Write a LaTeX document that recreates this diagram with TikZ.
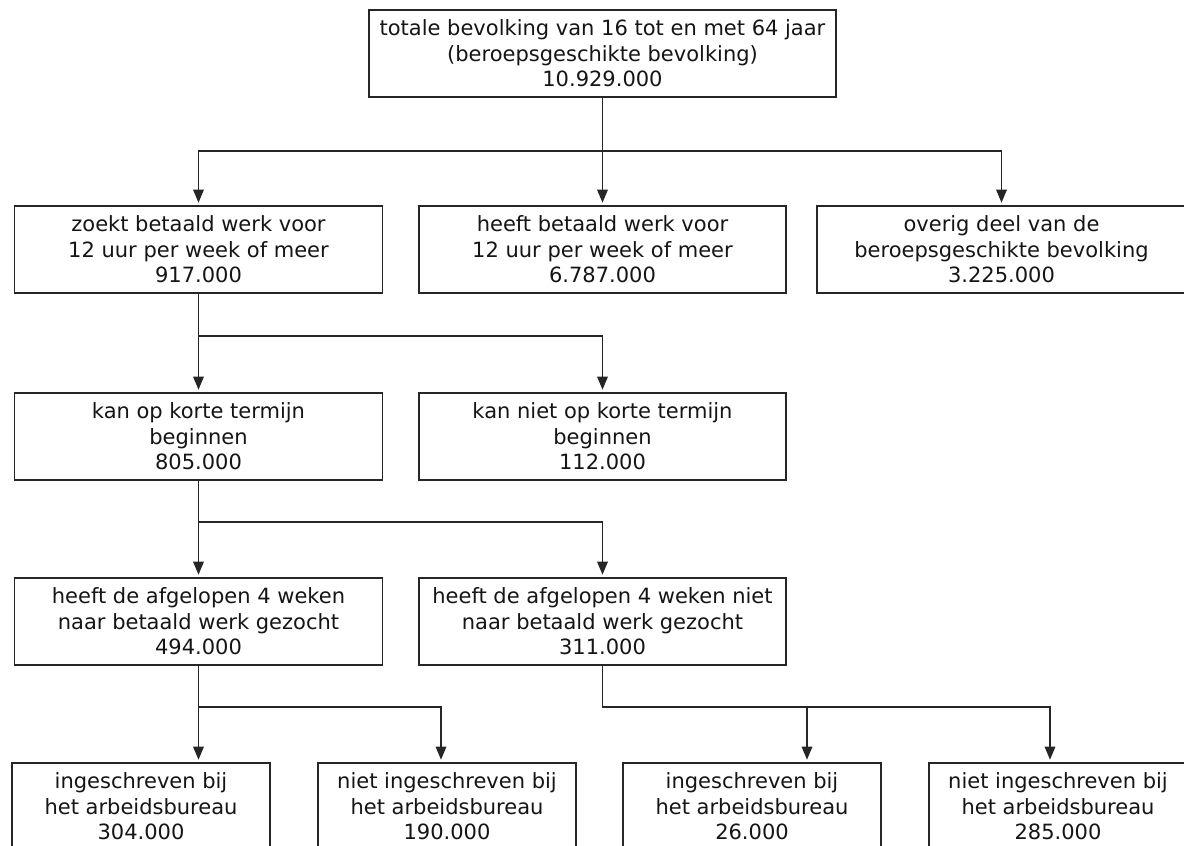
\documentclass[tikz,border=0pt]{standalone}
\usepackage{fontspec}
\setmainfont{DejaVu Sans}
\usetikzlibrary{arrows.meta}
\definecolor{ink}{HTML}{151515}
\definecolor{edge}{HTML}{262626}
\begin{document}
\begin{tikzpicture}[x=1pt,y=-1pt,
  box/.style={draw=edge, line width=1.6pt, rectangle, align=center, inner sep=0pt,
    minimum height=87pt, text=ink, font=\fontsize{21}{25.5}\selectfont},
  ln/.style={draw=edge, line width=1.6pt},
  arr/.style={ln, -{Triangle[length=13pt,width=10.5pt]}, shorten >=2.5pt}]
\useasboundingbox (0,0) rectangle (1184,846);
\fill[white] (0,0) rectangle (1184,846);
% top
\node[box, minimum width=467pt] (top) at (602.5,53.5) {totale bevolking van 16 tot en met 64 jaar\\(beroepsgeschikte bevolking)\\10.929.000};
% row 1
\node[box, minimum width=368pt] (A) at (198.5,249.5) {zoekt betaald werk voor\\12 uur per week of meer\\917.000};
\node[box, minimum width=367pt] (B) at (602.5,249.5) {heeft betaald werk voor\\12 uur per week of meer\\6.787.000};
\node[box, minimum width=369pt] (C) at (1001.5,249.5) {overig deel van de\\beroepsgeschikte bevolking\\3.225.000};
% row 2
\node[box, minimum width=368pt] (D) at (198.5,436.5) {kan op korte termijn\\beginnen\\805.000};
\node[box, minimum width=367pt] (E) at (602.5,436.5) {kan niet op korte termijn\\beginnen\\112.000};
% row 3
\node[box, minimum width=368pt] (F) at (198.5,621.5) {heeft de afgelopen 4 weken\\naar betaald werk gezocht\\494.000};
\node[box, minimum width=367pt] (G) at (602.5,621.5) {heeft de afgelopen 4 weken niet\\naar betaald werk gezocht\\311.000};
% row 4
\node[box, minimum width=258pt] (H) at (141,806.5) {ingeschreven bij\\het arbeidsbureau\\304.000};
\node[box, minimum width=258pt] (I) at (447,806.5) {niet ingeschreven bij\\het arbeidsbureau\\190.000};
\node[box, minimum width=258pt] (J) at (752,806.5) {ingeschreven bij\\het arbeidsbureau\\26.000};
\node[box, minimum width=258pt] (K) at (1058,806.5) {niet ingeschreven bij\\het arbeidsbureau\\285.000};
% junctions
\coordinate (j1) at (602.5,151);
\coordinate (j2) at (198.5,336);
\coordinate (j3) at (198.5,522);
\coordinate (j4) at (198.5,707);
\coordinate (j5) at (602.5,707);
% connectors
\draw[arr] (top.south) -- (j1) -| (A.north);
\draw[arr] (top.south) -- (B.north);
\draw[arr] (top.south) -- (j1) -| (C.north);
\draw[arr] (A.south) -- (D.north);
\draw[arr] (A.south) -- (j2) -| (E.north);
\draw[arr] (D.south) -- (F.north);
\draw[arr] (D.south) -- (j3) -| (G.north);
\draw[arr] (F.south) -- (j4 |- H.north);
\draw[arr] (F.south) -- (j4) -| ([xshift=-6pt]I.north);
\draw[arr] (G.south) -- (j5) -| ([xshift=55pt]J.north);
\draw[arr] (G.south) -- (j5) -| ([xshift=-8pt]K.north);
\end{tikzpicture}
\end{document}
